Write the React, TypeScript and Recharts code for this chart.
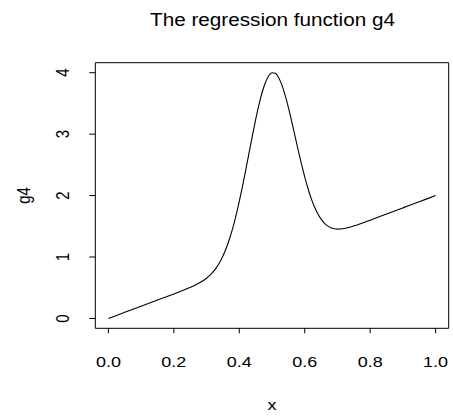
import React from "react";
import { LineChart, Line, XAxis, YAxis, ReferenceArea } from "recharts";

const xValues = [
  0, 0.05, 0.1, 0.15, 0.2, 0.24, 0.26, 0.28, 0.3, 0.31, 0.32, 0.33, 0.34, 0.35,
  0.36, 0.37, 0.38, 0.39, 0.4, 0.41, 0.42, 0.43, 0.44, 0.45, 0.46, 0.47, 0.48,
  0.49, 0.5, 0.51, 0.52, 0.53, 0.54, 0.55, 0.56, 0.57, 0.58, 0.59, 0.6, 0.61,
  0.62, 0.63, 0.64, 0.65, 0.66, 0.67, 0.68, 0.69, 0.7, 0.72, 0.74, 0.76, 0.8,
  0.85, 0.9, 0.95, 1.0,
];
const g4Values = [
  0, 0.1, 0.2, 0.3, 0.4, 0.483, 0.529, 0.584, 0.655, 0.701, 0.757, 0.827, 0.912,
  1.016, 1.143, 1.294, 1.471, 1.675, 1.904, 2.155, 2.422, 2.698, 2.973, 3.236,
  3.476, 3.682, 3.842, 3.95, 4.0, 3.99, 3.922, 3.802, 3.636, 3.436, 3.213, 2.978,
  2.742, 2.515, 2.304, 2.115, 1.951, 1.814, 1.703, 1.616, 1.552, 1.507, 1.477,
  1.461, 1.455, 1.464, 1.489, 1.523, 1.6, 1.7, 1.8, 1.9, 2.0,
];
const xTicks = [0, 0.2, 0.4, 0.6, 0.8, 1.0];
const yTicks = [0, 1, 2, 3, 4];
const xDomain = [-0.04, 1.04];
const yDomain = [-0.16, 4.163];

const data = xValues.map((x, i) => ({ x, g4: g4Values[i] }));

const FONT = "'Liberation Sans', Arial, Helvetica, sans-serif";
const SX = 1.2;
const FS = 15;

const XTick = (props: any) => {
  const { x, y, payload } = props;
  return (
    <text
      transform={`translate(${x},${y + 31.4}) scale(${SX},1)`}
      textAnchor="middle"
      fontFamily={FONT}
      fontSize={FS}
      fill="#000"
    >
      {Number(payload.value).toFixed(1)}
    </text>
  );
};

const YTick = (props: any) => {
  const { x, y, payload } = props;
  return (
    <text
      transform={`translate(${x - 18.3},${y}) scale(${SX},1) rotate(-90)`}
      textAnchor="middle"
      fontFamily={FONT}
      fontSize={FS}
      fill="#000"
    >
      {String(payload.value)}
    </text>
  );
};

export default function App() {
  return (
    <div style={{ position: "absolute", left: 0, top: 0, width: 453, height: 416, background: "#fff" }}>
      <LineChart
        width={453}
        height={416}
        data={data}
        margin={{ top: 62.7, right: 4.3, bottom: 47.7, left: 0 }}
      >
        <XAxis
          dataKey="x"
          type="number"
          domain={xDomain}
          ticks={xTicks}
          allowDataOverflow
          axisLine={false}
          tickLine={{ stroke: "#000", strokeWidth: 1 }}
          tickSize={5}
          height={40}
          tick={<XTick />}
        />
        <YAxis
          type="number"
          domain={yDomain}
          ticks={yTicks}
          allowDataOverflow
          axisLine={false}
          tickLine={{ stroke: "#000", strokeWidth: 1 }}
          tickSize={6}
          width={95.3}
          tick={<YTick />}
        />
        <ReferenceArea
          x1={xDomain[0]}
          x2={xDomain[1]}
          y1={yDomain[0]}
          y2={yDomain[1]}
          fill="none"
          fillOpacity={0}
          stroke="#000"
          strokeWidth={1}
          strokeOpacity={1}
        />
        <Line
          dataKey="g4"
          type="monotone"
          stroke="#000"
          strokeWidth={1.1}
          dot={false}
          isAnimationActive={false}
        />
      </LineChart>
      <svg
        width={453}
        height={416}
        style={{ position: "absolute", left: 0, top: 0, pointerEvents: "none" }}
      >
        <text
          x={272.5}
          y={25.7}
          textAnchor="middle"
          fontFamily={FONT}
          fontSize={17.5}
          textLength={245}
          lengthAdjust="spacingAndGlyphs"
          fill="#000"
        >
          The regression function g4
        </text>
        <text
          transform={`translate(272,409.5) scale(${SX},1)`}
          textAnchor="middle"
          fontFamily={FONT}
          fontSize={FS}
          fill="#000"
        >
          x
        </text>
        <text
          transform={`translate(30,195.5) scale(${SX},1) rotate(-90)`}
          textAnchor="middle"
          fontFamily={FONT}
          fontSize={FS}
          fill="#000"
        >
          g4
        </text>
      </svg>
    </div>
  );
}
